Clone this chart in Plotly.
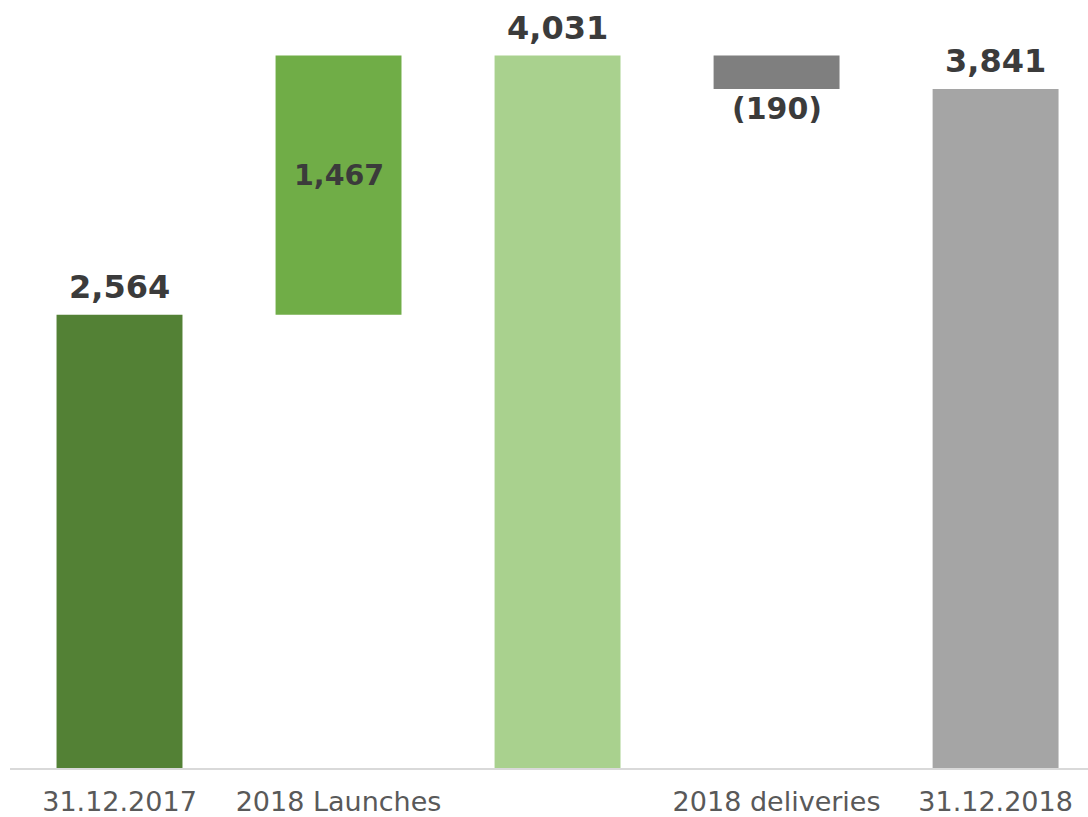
import plotly.graph_objects as go

categories = ["31.12.2017", "2018 Launches", "", "2018 deliveries", "31.12.2018"]
changes = [2564, 1467, None, -190, None]
totals = [2564, None, 4031, None, 3841]
labels = ["2,564", "1,467", "4,031", "(190)", "3,841"]
colors = ["#538135", "#70ad47", "#a9d18e", "#7f7f7f", "#a5a5a5"]

# compute bases/heights from the data
bases, heights = [], []
running = 0
for i in range(len(categories)):
    if totals[i] is not None:
        bases.append(0)
        heights.append(totals[i])
        running = totals[i]
    else:
        d = changes[i]
        if d >= 0:
            bases.append(running)
            heights.append(d)
        else:
            bases.append(running + d)
            heights.append(-d)
        running += d

xs = list(range(len(categories)))

fig = go.Figure(go.Bar(
    x=xs, y=heights, base=bases, width=0.575,
    marker=dict(color=colors, line=dict(width=0)),
    hoverinfo="skip",
))

annotations = []
for i in xs:
    top = bases[i] + heights[i]
    bottom = bases[i]
    big = dict(family="DejaVu Sans", size=32, color="#3b3b3b", weight="bold")
    small = dict(family="DejaVu Sans", size=28.5, color="#3b3b3b", weight="bold")
    neg = dict(family="DejaVu Sans", size=30, color="#3b3b3b", weight="bold")
    if i == 1:
        annotations.append(dict(x=i, y=(top + bottom) / 2, text="<b>%s</b>" % labels[i],
                                showarrow=False, font=small, yanchor="middle", yshift=10))
    elif i == 3:
        annotations.append(dict(x=i, y=bottom, text="<b>%s</b>" % labels[i],
                                showarrow=False, font=neg, yanchor="top", yshift=0))
    else:
        annotations.append(dict(x=i, y=top, text="<b>%s</b>" % labels[i],
                                showarrow=False, font=big, yanchor="bottom", yshift=7))

fig.update_layout(
    width=1088, height=817,
    margin=dict(l=10, r=0, t=0, b=49, autoexpand=False),
    paper_bgcolor="white", plot_bgcolor="white",
    showlegend=False,
    annotations=annotations,
    xaxis=dict(
        tickmode="array", tickvals=xs, ticktext=categories,
        range=[-0.5, 4.422], showgrid=False, zeroline=False,
        showline=True, linecolor="#d9d9d9", linewidth=2,
        ticks="", tickfont=dict(family="DejaVu Sans", size=27, color="#595959"),
        ticklabelstandoff=9,
        automargin=False, fixedrange=True,
    ),
    yaxis=dict(
        range=[0, 4345], showgrid=False, zeroline=False, showticklabels=False,
        showline=False, automargin=False, fixedrange=True,
    ),
)

fig.write_html("out.html", config={"displayModeBar": False})
